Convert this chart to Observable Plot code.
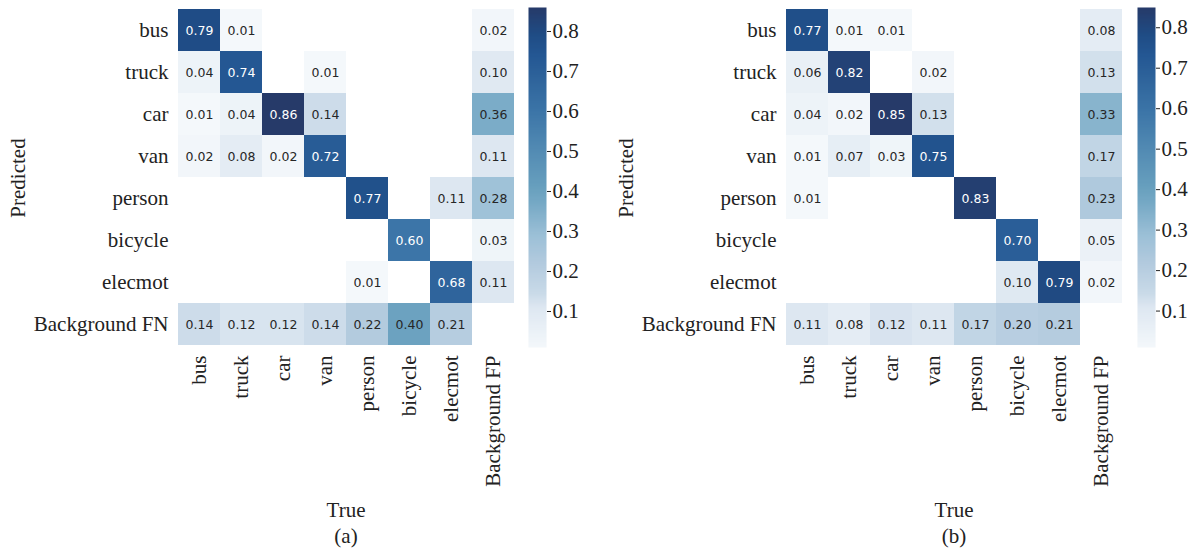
<!DOCTYPE html>
<html>
<head>
<meta charset="utf-8">
<script src="https://cdn.jsdelivr.net/npm/d3@7"></script>
<script src="https://cdn.jsdelivr.net/npm/@observablehq/plot@0.6"></script>
<style>
  html, body { margin: 0; padding: 0; background: #fff; }
  #wrap { position: relative; width: 1195px; height: 551px; overflow: hidden; font-family: "Liberation Serif", serif; color: #222; }
  .abs { position: absolute; }
  .lbl { position: absolute; font-size: 21px; white-space: nowrap; transform: translate(-50%, -50%); }
  .rot { transform: translate(-50%, -50%) rotate(-90deg); }
  svg text { font-family: "Liberation Serif", serif; }
  svg g.cellnum text { font-family: "DejaVu Sans", sans-serif; }
</style>
</head>
<body>
<div id="wrap"></div>
<script>
// ---- data ----
const trueLabels = ["bus", "truck", "car", "van", "person", "bicycle", "elecmot", "Background FP"];
const predLabels = ["bus", "truck", "car", "van", "person", "bicycle", "elecmot", "Background FN"];
const colorTicks = [0.1, 0.2, 0.3, 0.4, 0.5, 0.6, 0.7, 0.8];

// rows = predicted, columns = true; null = empty cell
const matrixA = [
  [0.79, 0.01, null, null, null, null, null, 0.02],
  [0.04, 0.74, null, 0.01, null, null, null, 0.10],
  [0.01, 0.04, 0.86, 0.14, null, null, null, 0.36],
  [0.02, 0.08, 0.02, 0.72, null, null, null, 0.11],
  [null, null, null, null, 0.77, null, 0.11, 0.28],
  [null, null, null, null, null, 0.60, null, 0.03],
  [null, null, null, null, 0.01, null, 0.68, 0.11],
  [0.14, 0.12, 0.12, 0.14, 0.22, 0.40, 0.21, null]
];
const matrixB = [
  [0.77, 0.01, 0.01, null, null, null, null, 0.08],
  [0.06, 0.82, null, 0.02, null, null, null, 0.13],
  [0.04, 0.02, 0.85, 0.13, null, null, null, 0.33],
  [0.01, 0.07, 0.03, 0.75, null, null, null, 0.17],
  [0.01, null, null, null, 0.83, null, null, 0.23],
  [null, null, null, null, null, 0.70, null, 0.05],
  [null, null, null, null, null, 0.10, 0.79, 0.02],
  [0.11, 0.08, 0.12, 0.11, 0.17, 0.20, 0.21, null]
];
const panelTags = ["(a)", "(b)"];

// muted "Blues" ramp (colour stops of the reference's palette)
const rampStops = [0, 0.12, 0.16, 0.25, 0.33, 0.42, 0.47, 0.70, 0.80, 0.86, 0.92, 1];
const rampColors = ["#f4f8fb", "#dde7f1", "#c9dae8", "#b2cade", "#9cc0d7", "#78aac6", "#68a0be",
                    "#3b74a7", "#2d629a", "#245793", "#1f4c85", "#263a69"];
const ramp = d3.scaleLinear().domain(rampStops).range(rampColors).interpolate(d3.interpolateRgb).clamp(true);
const mutedBlues = t => ramp(t);

function toCells(m) {
  const out = [];
  m.forEach((row, i) => row.forEach((v, j) => {
    if (v != null) out.push({pred: predLabels[i], tru: trueLabels[j], v});
  }));
  return out;
}

const wrap = document.getElementById("wrap");

function panel(matrix, left, cbLeft, tag) {
  const cells = toCells(matrix);
  const vals = cells.map(d => d.v);
  const vmin = d3.min(vals), vmax = d3.max(vals);
  const colorOpts = {type: "linear", domain: [vmin, vmax], interpolate: mutedBlues};
  const dark = d => (d.v - vmin) / (vmax - vmin) > 0.55;
  const fmt = d => d.v.toFixed(2);

  const p = Plot.plot({
    width: 600, height: 551,
    marginLeft: 175, marginRight: 83, marginTop: 7, marginBottom: 204,
    style: {fontFamily: "Liberation Serif", fontSize: "21px", color: "#222", background: "transparent"},
    x: {domain: trueLabels, padding: 0, axis: null},
    y: {domain: predLabels, padding: 0, axis: null},
    color: colorOpts,
    marks: [
      Plot.cell(cells, {x: "tru", y: "pred", fill: "v", inset: 0}),
      Plot.text(cells.filter(dark), {x: "tru", y: "pred", text: fmt, fill: "white",
        fontFamily: "DejaVu Sans", fontSize: 12.5, className: "cellnum"}),
      Plot.text(cells.filter(d => !dark(d)), {x: "tru", y: "pred", text: fmt, fill: "#262626",
        fontFamily: "DejaVu Sans", fontSize: 12.5, className: "cellnum"}),
      Plot.axisX({domain: trueLabels, tickRotate: -90, tickSize: 0, tickPadding: 8, label: null,
        fontSize: 21, fontFamily: "Liberation Serif"}),
      Plot.axisY({domain: predLabels, tickSize: 0, tickPadding: 7, label: null,
        fontSize: 21, fontFamily: "Liberation Serif"})
    ]
  });
  p.classList.add("abs");
  p.style.left = left + "px";
  p.style.top = "0px";
  wrap.appendChild(p);

  const cb = Plot.plot({
    width: 60, height: 551,
    marginLeft: 0, marginRight: 42, marginTop: 7, marginBottom: 204,
    style: {fontFamily: "Liberation Serif", fontSize: "21px", color: "#222", background: "transparent"},
    x: {domain: [0, 1], axis: null},
    y: {domain: [vmin, vmax], axis: null},
    color: colorOpts,
    marks: [
      Plot.raster({x1: 0, x2: 1, y1: vmin, y2: vmax, width: 1, height: 300, fill: (x, y) => y}),
      Plot.axisY({ticks: colorTicks, anchor: "right", tickSize: 4, tickPadding: 2, tickFormat: d3.format(".1f"),
        label: null, fontSize: 21, fontFamily: "Liberation Serif"})
    ]
  });
  cb.classList.add("abs");
  cb.style.left = cbLeft + "px";
  cb.style.top = "0px";
  wrap.appendChild(cb);

  const cx = left + 175 + 171;
  const add = (txt, x, y, cls) => {
    const d = document.createElement("div");
    d.className = "lbl" + (cls ? " " + cls : "");
    d.textContent = txt;
    d.style.left = x + "px";
    d.style.top = y + "px";
    wrap.appendChild(d);
  };
  add("Predicted", left + 18, 178, "rot");
  add("True", cx, 510);
  add(tag, cx, 536);
}

panel(matrixA, 0, 528, panelTags[0]);
panel(matrixB, 608, 1137, panelTags[1]);
</script>
</body>
</html>
